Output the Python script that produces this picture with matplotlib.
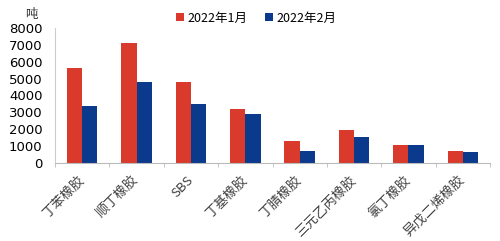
import matplotlib
matplotlib.use("Agg")
import matplotlib.pyplot as plt
import numpy as np

plt.rcParams['font.family'] = ['Noto Sans CJK SC', 'DejaVu Sans']

categories = ["丁苯橡胶", "顺丁橡胶", "SBS", "丁基橡胶", "丁腈橡胶", "三元乙丙橡胶", "氯丁橡胶", "异戊二烯橡胶"]
jan = [5630, 7090, 4800, 3200, 1320, 1980, 1090, 690]
feb = [3400, 4800, 3480, 2900, 730, 1560, 1090, 630]
series_names = ["2022年1月", "2022年2月"]
yticks = [0, 1000, 2000, 3000, 4000, 5000, 6000, 7000, 8000]

red = "#D93A2B"
blue = "#0B3A8C"

fig = plt.figure(figsize=(5.0, 2.41), dpi=100)
ax = fig.add_axes([0.11, 0.324, 0.87, 0.56])

x = np.arange(len(categories))
w = 0.28
ax.bar(x - w/2, jan, width=w, color=red, label=series_names[0])
ax.bar(x + w/2, feb, width=w, color=blue, label=series_names[1])

ax.set_xlim(-0.5, len(categories) - 0.5)
ax.set_ylim(0, 8000)
ax.set_yticks(yticks)
ax.set_yticklabels([str(v) for v in yticks], fontsize=9.5, family='DejaVu Sans')
ax.tick_params(axis='y', length=0, pad=9)

ax.set_xticks(x)
ax.set_xticklabels(categories, rotation=45, ha='right', va='center', rotation_mode='anchor',
                   fontsize=9.5, fontweight='light', color='#404040')
ax.tick_params(axis='x', which='major', length=0, pad=11)
ax.set_xticks(np.arange(len(categories) + 1) - 0.5, minor=True)
ax.tick_params(axis='x', which='minor', length=3, color='#BBBBBB', direction='out')

for s in ['top', 'right']:
    ax.spines[s].set_visible(False)
ax.spines['left'].set_color('#CCCCCC')
ax.spines['bottom'].set_color('#BBBBBB')

fig.text(0.062, 0.94, "吨", fontsize=9, ha='center', va='center', color='#333333')

leg = fig.legend(loc='center left', bbox_to_anchor=(0.33, 0.925), ncol=2, frameon=False,
                 fontsize=9, handlelength=0.6, handleheight=0.6, handletextpad=0.3, columnspacing=1.4)

fig.savefig("out.png", dpi=100)
